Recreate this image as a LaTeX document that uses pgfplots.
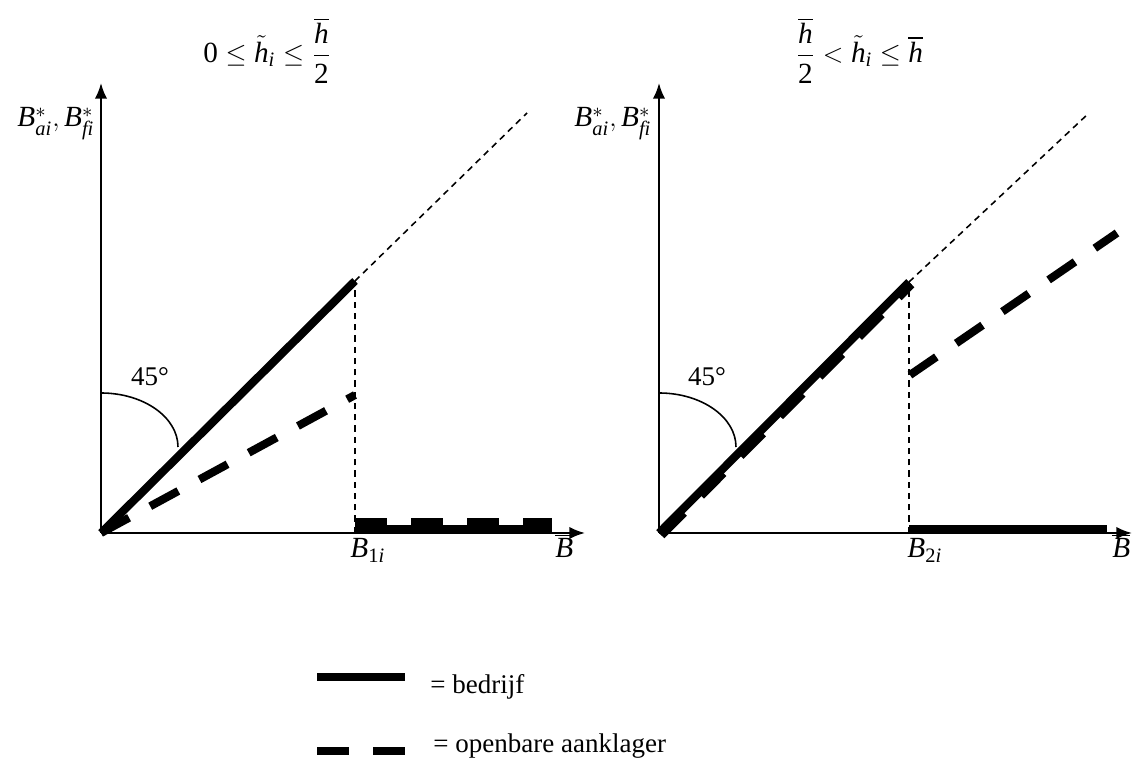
\documentclass[border=0pt]{standalone}
\usepackage{amsmath}
\usepackage{fontspec}
\setmainfont{Liberation Serif}
\setmathrm{Liberation Serif}
\usepackage{pgfplots}
\pgfplotsset{compat=1.18}
\usetikzlibrary{arrows.meta}

% one picture pixel of the reference = 0.4444pt
\def\s{0.4444pt}

\pgfplotsset{
  panel/.style={
    x=\s, y=\s,
    xmin=0, ymin=0, ymax=450,
    axis lines=left,
    axis line style={line width=0.9pt, -{Latex[length=7pt,width=5.5pt]}},
    ticks=none,
    clip=false,
    anchor=south west,
  },
}
\tikzset{
  big/.style={line width=3.6pt, black},
  bigdash/.style={line width=3.6pt, black, dash pattern=on 14.2pt off 10.7pt},
  thindash/.style={line width=0.7pt, black, dash pattern=on 2.8pt off 2.2pt},
  mlabel/.style={font=\fontsize{13}{15}\selectfont, inner sep=0},
}
% fraction h-bar over 2, with the roomy spacing of the reference
\newcommand{\hhalf}{{\displaystyle\frac{\overline{\mathit{h}}\rule[-3pt]{0pt}{3pt}}{\rule{0pt}{11pt}\mathrm{2}}}}

\begin{document}
\begin{tikzpicture}[font=\fontsize{12}{14}\selectfont]
\useasboundingbox (0,0) rectangle (1133*\s, 758*\s);

% ---------- left panel ----------
\begin{axis}[panel, at={(101*\s,225*\s)}, xmax=484]
  % bedrijf
  \addplot[big] coordinates {(0,0) (254,252)};
  \addplot[big] coordinates {(254,4) (451,4)};
  % openbare aanklager
  \addplot[bigdash] coordinates {(0,0) (254,138)};
  \addplot[bigdash] coordinates {(254,11) (451,11)};
  % guides
  \addplot[thindash] coordinates {(254,252) (426,420)};
  \addplot[thindash] coordinates {(254,0) (254,252)};

  \draw[line width=0.7pt] (axis cs:0,140) arc[start angle=90, end angle=0, x radius=77*\s, y radius=54*\s];
  \node at (axis cs:49,156) {45°};

  \node[mlabel, anchor=west] at (axis cs:102,482)
    {$\mathrm{0}\le\tilde{\mathit{h}}_{\mathit{i}}\le\hhalf$};
  \node[mlabel, anchor=base east] at (axis cs:-6,406)
    {$\mathit{B}^{*}_{\mathit{ai}},\mathit{B}^{*}_{\mathit{fi}}$};
  \node[mlabel, anchor=base west] at (axis cs:249,-25) {$\mathit{B}_{\mathrm{1}\mathit{i}}$};
  \node[mlabel, anchor=base west] at (axis cs:454,-25) {$\overline{\mathit{B}}$};

  % legend
  \draw[big] (axis cs:216,-144) -- (axis cs:304,-144);
  \draw[bigdash] (axis cs:216,-218) -- (axis cs:304,-218);
  \node[anchor=base west, inner sep=0] at (axis cs:329,-161) {= bedrijf};
  \node[anchor=base west, inner sep=0] at (axis cs:332,-220) {= openbare aanklager};
\end{axis}

% ---------- right panel ----------
\begin{axis}[panel, at={(659*\s,225*\s)}, xmax=473]
  % bedrijf
  \addplot[big] coordinates {(0,0) (250,251)};
  \addplot[big] coordinates {(250,4) (448,4)};
  % openbare aanklager
  \addplot[bigdash] coordinates {(2.5,-2.5) (252.5,248.5)};
  \addplot[bigdash] coordinates {(251,158) (458,300)};
  % guides
  \addplot[thindash] coordinates {(250,251) (430,420)};
  \addplot[thindash] coordinates {(250,0) (250,251)};

  \draw[line width=0.7pt] (axis cs:0,140) arc[start angle=90, end angle=0, x radius=77*\s, y radius=54*\s];
  \node at (axis cs:48,156) {45°};

  \node[mlabel, anchor=west] at (axis cs:136,482)
    {$\hhalf<\tilde{\mathit{h}}_{\mathit{i}}\le\overline{\mathit{h}}$};
  \node[mlabel, anchor=base east] at (axis cs:-7,406)
    {$\mathit{B}^{*}_{\mathit{ai}},\mathit{B}^{*}_{\mathit{fi}}$};
  \node[mlabel, anchor=base west] at (axis cs:248,-25) {$\mathit{B}_{\mathrm{2}\mathit{i}}$};
  \node[mlabel, anchor=base west] at (axis cs:453,-25) {$\overline{\mathit{B}}$};
\end{axis}
\end{tikzpicture}
\end{document}
